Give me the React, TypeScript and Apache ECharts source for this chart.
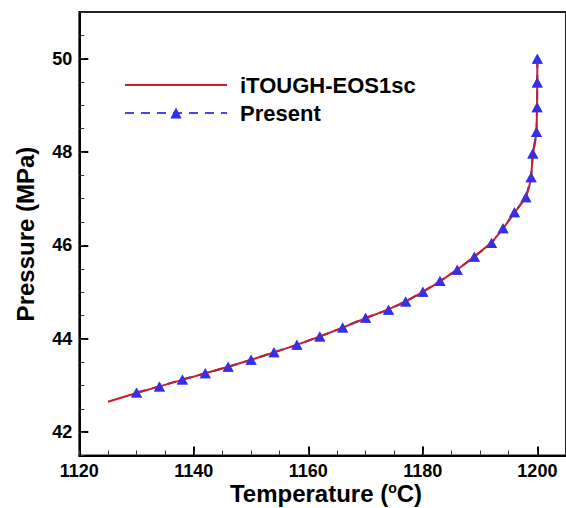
import React, { useEffect, useRef } from 'react';
import * as echarts from 'echarts';

// Red reference curve (iTOUGH-EOS1sc)
const itoughT = [1125, 1130, 1134, 1138, 1142, 1146, 1150, 1154, 1158, 1162, 1166, 1170, 1174, 1177, 1180, 1183, 1186, 1189, 1192, 1194, 1196, 1197, 1198, 1198.5, 1198.9, 1199.2, 1199.6, 1199.85, 1199.95, 1200];
const itoughP = [42.65, 42.84, 42.98, 43.12, 43.26, 43.40, 43.55, 43.71, 43.87, 44.05, 44.24, 44.44, 44.63, 44.80, 45.00, 45.23, 45.48, 45.76, 46.06, 46.36, 46.70, 46.86, 47.04, 47.22, 47.45, 47.95, 48.20, 48.45, 49.00, 50.00];

// Present results (triangles)
const presentT = [1130, 1134, 1138, 1142, 1146, 1150, 1154, 1158, 1162, 1166, 1170, 1174, 1177, 1180, 1183, 1186, 1189, 1192, 1194, 1196, 1198, 1198.9, 1199.2, 1199.85, 1199.95, 1199.98, 1200];
const presentP = [42.85, 42.98, 43.13, 43.26, 43.40, 43.55, 43.71, 43.87, 44.05, 44.24, 44.45, 44.62, 44.80, 45.01, 45.24, 45.48, 45.76, 46.05, 46.37, 46.71, 47.03, 47.46, 47.97, 48.43, 48.96, 49.49, 50.00];

const seriesNames = ['iTOUGH-EOS1sc', 'Present'];
const xTitle = 'Temperature ({sup|o}C)';
const yTitle = 'Pressure (MPa)';

const FONT = "'Liberation Sans', Arial, Helvetica, sans-serif";
const RED = '#c8202a';
const BLUE = '#2f2ff0';
const DASH = [9, 7];

export default function App() {
  const ref = useRef<HTMLDivElement>(null);

  useEffect(() => {
    document.body.style.margin = '0';
    if (!ref.current) return;
    const chart = echarts.init(ref.current, undefined, { renderer: 'svg' });

    const itough = itoughT.map((t, i) => [t, itoughP[i]]);
    const present = presentT.map((t, i) => [t, presentP[i]]);

    const labelStyle = {
      fontSize: 18,
      fontWeight: 'bold' as const,
      color: '#000',
      fontFamily: FONT,
      formatter: (v: number) => String(v),
    };

    chart.setOption({
      animation: false,
      grid: {
        left: 79.3,
        top: 12,
        width: 492.4,
        height: 443.5,
        show: true,
        borderColor: '#222',
        borderWidth: 2,
        backgroundColor: 'transparent',
      },
      legend: {
        orient: 'vertical',
        left: 119,
        top: 69,
        itemWidth: 102,
        itemHeight: 14,
        itemGap: 6,
        selectedMode: false,
        data: [
          { name: seriesNames[0], itemStyle: { opacity: 0 } },
          { name: seriesNames[1], lineStyle: { type: DASH, width: 2, color: '#4646ee' } },
        ],
        textStyle: { fontSize: 22, fontWeight: 'bold', color: '#000', fontFamily: FONT, padding: [0, 0, 0, 8] },
      },
      xAxis: [
        {
          type: 'value',
          min: 1120,
          max: 1205,
          interval: 20,
          position: 'bottom',
          axisLine: { show: true, onZero: false, lineStyle: { color: '#000', width: 2 } },
          axisTick: { show: true, inside: true, length: 9, lineStyle: { color: '#000', width: 2 } },
          axisLabel: { ...labelStyle, margin: 6, showMaxLabel: false },
          splitLine: { show: false },
        },
        {
          type: 'value',
          min: 1120,
          max: 1205,
          interval: 5,
          position: 'bottom',
          axisLine: { show: false, onZero: false },
          axisTick: { show: true, inside: true, length: 5, lineStyle: { color: '#333', width: 1 } },
          axisLabel: { show: false },
          splitLine: { show: false },
        },
      ],
      yAxis: [
        {
          type: 'value',
          min: 41.5,
          max: 51,
          splitNumber: 5,
          position: 'left',
          axisLine: { show: true, onZero: false, lineStyle: { color: '#000', width: 2 } },
          axisTick: { show: true, inside: true, length: 9, lineStyle: { color: '#000', width: 2 } },
          axisLabel: { ...labelStyle, margin: 7, showMinLabel: false, showMaxLabel: false },
          splitLine: { show: false },
        },
        {
          type: 'value',
          min: 41.5,
          max: 51,
          interval: 0.5,
          position: 'left',
          axisLine: { show: false, onZero: false },
          axisTick: { show: true, inside: true, length: 5, lineStyle: { color: '#333', width: 1 } },
          axisLabel: { show: false },
          splitLine: { show: false },
        },
      ],
      series: [
        {
          name: seriesNames[1],
          type: 'line',
          data: present,
          xAxisIndex: 0,
          yAxisIndex: 0,
          z: 2,
          symbol: 'triangle',
          symbolSize: [11, 10],
          showSymbol: true,
          itemStyle: { color: BLUE },
          lineStyle: { color: BLUE, width: 2, type: DASH },
        },
        {
          name: seriesNames[0],
          type: 'line',
          data: itough,
          xAxisIndex: 0,
          yAxisIndex: 0,
          z: 3,
          symbol: 'none',
          itemStyle: { color: RED },
          lineStyle: { color: RED, width: 2 },
        },
        {
          name: seriesNames[1],
          type: 'scatter',
          data: present,
          xAxisIndex: 0,
          yAxisIndex: 0,
          z: 4,
          symbol: 'triangle',
          symbolSize: [11, 10],
          itemStyle: { color: BLUE },
        },
      ],
      graphic: [
        {
          type: 'text',
          x: 326,
          y: 493,
          style: {
            text: xTitle,
            fontSize: 24,
            fontWeight: 'bold',
            fontFamily: FONT,
            fill: '#000',
            align: 'center',
            verticalAlign: 'middle',
            rich: {
              sup: { fontSize: 14, fontWeight: 'bold', fontFamily: FONT, fill: '#000', verticalAlign: 'top' },
            },
          },
        },
        {
          type: 'text',
          x: 25,
          y: 234,
          rotation: Math.PI / 2,
          style: {
            text: yTitle,
            fontSize: 24,
            fontWeight: 'bold',
            fontFamily: FONT,
            fill: '#000',
            align: 'center',
            verticalAlign: 'middle',
          },
        },
      ],
    });

    return () => chart.dispose();
  }, []);

  return <div ref={ref} style={{ width: 566, height: 508 }} />;
}
